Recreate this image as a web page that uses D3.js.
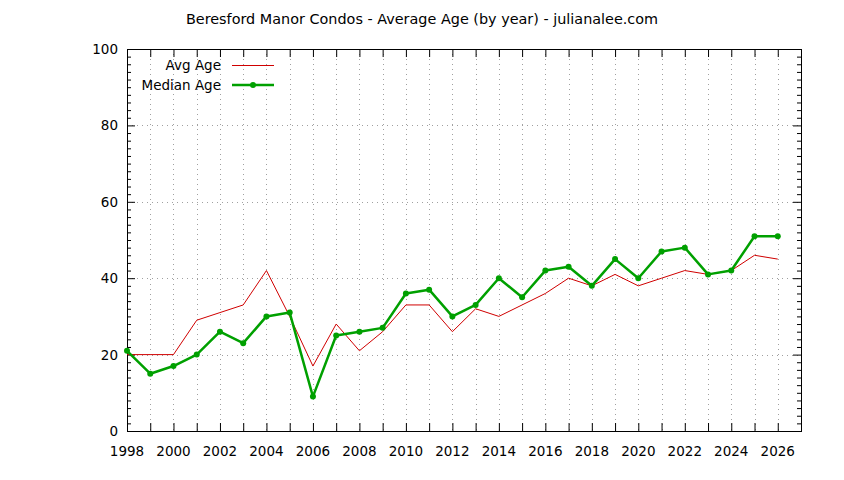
<!DOCTYPE html>
<html>
<head>
<meta charset="utf-8">
<script src="https://cdn.jsdelivr.net/npm/d3@7"></script>
<style>
  body { margin: 0; background: #fff; }
  text { font-family: "DejaVu Sans", sans-serif; font-size: 13.5px; fill: #000; }
</style>
</head>
<body>
<svg id="chart" width="844" height="480"></svg>
<script>
// years and the two series
var years = [1998, 1999, 2000, 2001, 2002, 2003, 2004, 2005, 2006, 2007, 2008, 2009, 2010, 2011,
             2012, 2013, 2014, 2015, 2016, 2017, 2018, 2019, 2020, 2021, 2022, 2023, 2024, 2025, 2026];
var avgAge = [20, 20, 20, 29, 31, 33, 42, 30, 17, 28, 21, 26, 33, 33,
              26, 32, 30, 33, 36, 40, 38, 41, 38, 40, 42, 41, 42, 46, 45];
var medianAge = [21, 15, 17, 20, 26, 23, 30, 31, 9, 25, 26, 27, 36, 37,
                 30, 33, 40, 35, 42, 43, 38, 45, 40, 47, 48, 41, 42, 51, 51];
var yTicks = [0, 20, 40, 60, 80, 100];
var xLabels = d3.range(1998, 2027, 2);
var title = "Beresford Manor Condos - Average Age (by year) - julianalee.com";

var svg = d3.select("#chart");
var plotLeft = 127, plotRight = 801, plotTop = 49, plotBottom = 431;

var x = d3.scaleLinear().domain([1998, 2027]).range([plotLeft, plotRight]);
var y = d3.scaleLinear().domain([0, 100]).range([plotBottom, plotTop]);

// dotted grid: every year vertically, every major tick horizontally
var grid = svg.append("g").attr("stroke", "#a0a0a0").attr("stroke-width", 1)
  .attr("stroke-dasharray", "1,4");
grid.selectAll("line.v").data(d3.range(1999, 2027)).enter().append("line")
  .attr("x1", function(d) { return Math.round(x(d)) + 0.5; })
  .attr("x2", function(d) { return Math.round(x(d)) + 0.5; })
  .attr("y1", plotTop).attr("y2", plotBottom);
grid.selectAll("line.h").data(yTicks.slice(1, -1)).enter().append("line")
  .attr("y1", function(d) { return Math.round(y(d)) + 0.5; })
  .attr("y2", function(d) { return Math.round(y(d)) + 0.5; })
  .attr("x1", plotLeft).attr("x2", plotRight);

// axes, mirrored on all four sides
var minorY = d3.range(0, 101, 2).filter(function(d) { return d % 20 != 0; });
var yearTicks = d3.range(1998, 2027);
function drawAxes() {
  svg.append("g").attr("transform", "translate(0," + plotBottom + ")")
    .call(d3.axisBottom(x).tickValues(yearTicks).tickSize(-8).tickFormat(""));
  svg.append("g").attr("transform", "translate(0," + plotTop + ")")
    .call(d3.axisTop(x).tickValues(yearTicks).tickSize(-8).tickFormat(""));
  svg.append("g").attr("transform", "translate(" + plotLeft + ",0)")
    .call(d3.axisLeft(y).tickValues(yTicks).tickSize(-8).tickFormat(""));
  svg.append("g").attr("transform", "translate(" + plotLeft + ",0)")
    .call(d3.axisLeft(y).tickValues(minorY).tickSize(-4).tickFormat(""));
  svg.append("g").attr("transform", "translate(" + plotRight + ",0)")
    .call(d3.axisRight(y).tickValues(yTicks).tickSize(-8).tickFormat(""));
  svg.append("g").attr("transform", "translate(" + plotRight + ",0)")
    .call(d3.axisRight(y).tickValues(minorY).tickSize(-4).tickFormat(""));
  svg.selectAll(".domain").remove();
  svg.selectAll(".tick line").attr("stroke", "#000");
  svg.append("rect").attr("x", plotLeft + 0.5).attr("y", plotTop + 0.5)
    .attr("width", plotRight - plotLeft).attr("height", plotBottom - plotTop)
    .attr("fill", "none").attr("stroke", "#000").attr("stroke-width", 1);
}
drawAxes();

// tick labels
svg.selectAll("text.xl").data(xLabels).enter().append("text")
  .attr("x", function(d) { return x(d); }).attr("y", 456)
  .attr("text-anchor", "middle").text(function(d) { return d; });
svg.selectAll("text.yl").data(yTicks).enter().append("text")
  .attr("x", plotLeft - 9).attr("y", function(d) { return y(d) + 5; })
  .attr("text-anchor", "end").text(function(d) { return d; });

svg.append("text").attr("x", 422).attr("y", 24).attr("text-anchor", "middle")
  .style("font-size", "14.4px").text(title);

// series
var line = d3.line().x(function(d, i) { return x(years[i]); }).y(function(d) { return y(d); });
svg.append("path").datum(avgAge).attr("d", line)
  .attr("fill", "none").attr("stroke", "#d00000").attr("stroke-width", 1);
svg.append("path").datum(medianAge).attr("d", line)
  .attr("fill", "none").attr("stroke", "#00a000").attr("stroke-width", 2.5)
  .attr("stroke-linejoin", "round");
svg.selectAll("circle.m").data(medianAge).enter().append("circle")
  .attr("cx", function(d, i) { return x(years[i]); })
  .attr("cy", function(d) { return y(d); })
  .attr("r", 3).attr("fill", "#00a000");

// legend
var legend = svg.append("g");
legend.append("text").attr("x", 221).attr("y", 70).attr("text-anchor", "end").text("Avg Age");
legend.append("line").attr("x1", 232).attr("x2", 274).attr("y1", 65.5).attr("y2", 65.5)
  .attr("stroke", "#d00000").attr("stroke-width", 1);
legend.append("text").attr("x", 221).attr("y", 90).attr("text-anchor", "end").text("Median Age");
legend.append("line").attr("x1", 232).attr("x2", 274).attr("y1", 85).attr("y2", 85)
  .attr("stroke", "#00a000").attr("stroke-width", 2.5);
legend.append("circle").attr("cx", 253).attr("cy", 85).attr("r", 3).attr("fill", "#00a000");
</script>
</body>
</html>
